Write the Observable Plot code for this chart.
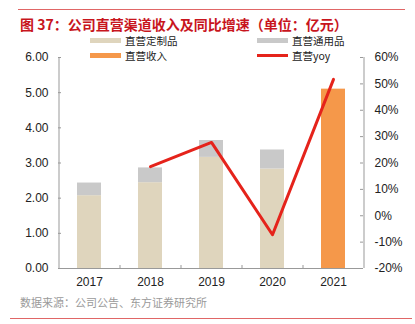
<!DOCTYPE html>
<html><head><meta charset="utf-8">
<script src="https://cdn.jsdelivr.net/npm/d3@7"></script>
<script src="https://cdn.jsdelivr.net/npm/@observablehq/plot@0.6"></script>
<style>
body{margin:0;background:#fff;}
#wrap{position:relative;width:415px;height:324px;overflow:hidden;font-family:"Noto Sans CJK SC","Liberation Sans",sans-serif;}
#wrap svg{position:absolute;left:0;top:0;}
.abs{position:absolute;white-space:nowrap;}
.leg{position:absolute;font-size:10.5px;line-height:11px;color:#222;display:flex;align-items:center;}
.sw{display:inline-block;width:31px;margin-right:4px;}
</style></head>
<body><div id="wrap"></div>
<script>
const years = ["2017","2018","2019","2020","2021"];
const customized = [2.07, 2.44, 3.16, 2.83, null];   // 直营定制品
const general = [0.36, 0.42, 0.48, 0.54, null];      // 直营通用品
const directTotal = [null, null, null, null, 5.10];  // 直营收入
const yoy = [null, 18.6, 27.8, -7.2, 51.7];          // 直营yoy (%)
const leftTicks = [0,1,2,3,4,5,6];
const rightTicks = [-20,-10,0,10,20,30,40,50,60];

const W = 415, H = 324;
const yMax = 6, rMin = -20, rMax = 60;
const toLeft = p => (p - rMin) / (rMax - rMin) * yMax;

const stacked = [];
years.forEach((y,i)=>{
  if (customized[i] != null) stacked.push({year:y, part:"直营定制品", v:customized[i], order:0});
  if (general[i] != null) stacked.push({year:y, part:"直营通用品", v:general[i], order:1});
});
const totals = years.map((y,i)=>({year:y, v:directTotal[i]})).filter(d=>d.v!=null);
const line = years.map((y,i)=>({year:y, v:yoy[i]})).filter(d=>d.v!=null);

const colors = {"直营定制品":"#dfd5bd","直营通用品":"#c9c9c9"};
const mL=58, mR=52, mT=57, mB=56;
const frameW = W-mL-mR, frameH = H-mT-mB;
const step = frameW/years.length;
const bw = 24;
const pi = 1 - bw/step;

const chart = Plot.plot({
  width: W, height: H,
  marginLeft: mL, marginRight: mR, marginTop: mT, marginBottom: mB,
  style: {fontFamily: '"Liberation Sans", Arial, sans-serif', fontSize: "12px", color:"#222"},
  x: {domain: years, paddingInner: pi, paddingOuter: pi/2, align: 0.5, label: null},
  y: {domain: [0, yMax], label: null},
  color: {domain: Object.keys(colors), range: Object.values(colors)},
  marks: [
    Plot.barY(stacked, Plot.stackY({x:"year", y:"v", fill:"part", order:"order"})),
    Plot.barY(totals, {x:"year", y:"v", fill:"#f5984a"}),
    Plot.lineY(line, {x:"year", y: d=>toLeft(d.v), stroke:"#e5231b", strokeWidth:3}),
    Plot.ruleY([0], {stroke:"#999", strokeWidth:1}),
    Plot.ruleX([0], {x: ()=>years[0], dx: -step/2, stroke:"#999"}),
    Plot.ruleX([0], {x: ()=>years[years.length-1], dx: step/2, stroke:"#999"}),
    Plot.tickY(leftTicks, {y: d=>d, stroke:"#999", insetRight: frameW-3}),
    Plot.tickY(rightTicks, {y: d=>toLeft(d), stroke:"#999", insetLeft: frameW-3}),
    Plot.tickX(years.slice(1), {x: d=>d, dx: -step/2, stroke:"#999", insetTop: frameH-3}),
    Plot.axisY(leftTicks, {anchor:"left", label:null, tickSize:0, tickPadding:10, tickFormat: d=>d.toFixed(2), fill:"#222"}),
    Plot.axisY(rightTicks.map(toLeft), {anchor:"right", label:null, tickSize:0, tickPadding:11, tickFormat: d=>Math.round(d/yMax*(rMax-rMin)+rMin)+"%", fill:"#222"}),
    Plot.axisX({label:null, tickSize:0, tickPadding:9, fill:"#222"})
  ]
});

const wrap = document.getElementById("wrap");
wrap.appendChild(chart);

function add(html, css){const d=document.createElement("div");d.className="abs";d.innerHTML=html;Object.assign(d.style,css);wrap.appendChild(d);return d;}
add("", {left:"18px", top:"9px", width:"387px", height:"0", borderTop:"1px solid #e06666"});
add("图 37：公司直营渠道收入及同比增速（单位：亿元）", {left:"20px", top:"14px", fontSize:"14px", fontWeight:"bold", color:"#c8151d", lineHeight:"20px"});
add("数据来源：公司公告、东方证券研究所", {left:"20px", top:"295px", fontSize:"11px", color:"#9a9a9a", lineHeight:"14px"});
add("", {left:"10px", top:"318px", width:"402px", height:"0", borderTop:"1px solid #e06666"});

function legend(x, y, label, sw){
  const d=document.createElement("div");d.className="leg";
  d.style.left=x+"px"; d.style.top=(y-5.5)+"px"; d.style.height="11px";
  d.innerHTML=`<span class="sw" style="${sw}"></span><span>${label}</span>`;
  wrap.appendChild(d);
}
legend(90, 40.5, "直营定制品", "height:5px;background:#dfd5bd");
legend(257, 40.5, "直营通用品", "height:5px;background:#c9c9c9");
legend(90, 55.5, "直营收入", "height:5px;background:#f5984a");
legend(257, 55.5, "直营yoy", "height:3px;background:#e5231b");
</script></body></html>
